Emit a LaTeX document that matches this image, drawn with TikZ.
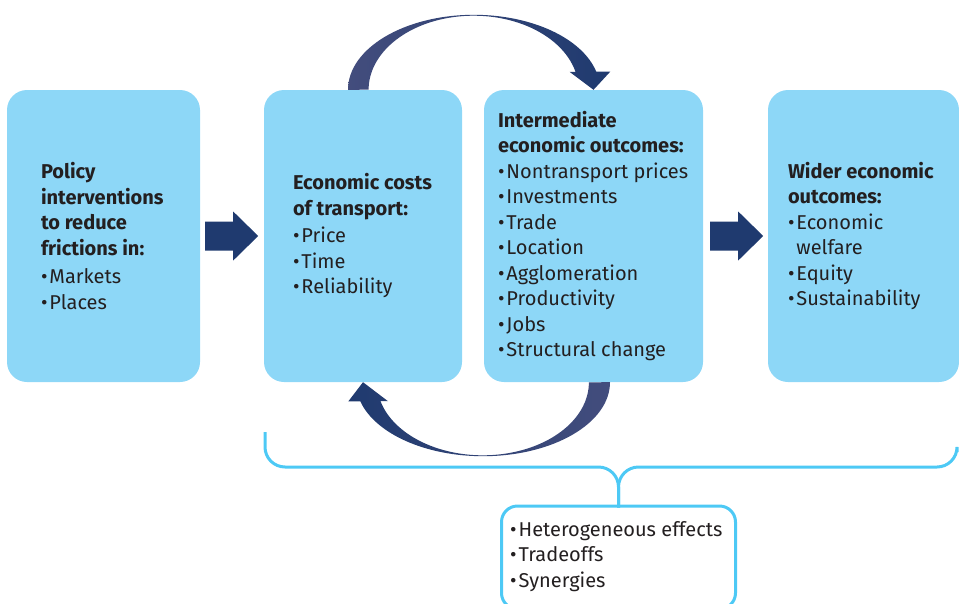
\documentclass[tikz,border=0pt]{standalone}
\usepackage{fontspec}
\setmainfont{Fira Sans}
\usetikzlibrary{positioning,calc}

\definecolor{boxblue}{HTML}{8DD7F7}
\definecolor{navy}{HTML}{1F3A6F}
\definecolor{slate}{HTML}{434D7D}
\definecolor{bracecol}{HTML}{4DC9F5}
\definecolor{ink}{HTML}{231F20}

\newcommand{\hd}[1]{\textbf{#1}}
\newcommand{\itm}{\textbullet\kern2pt}

\begin{document}
\begin{tikzpicture}[x=1pt, y=-1pt,
  stage/.style={fill=boxblue, rounded corners=20pt, minimum height=292pt, inner sep=0pt},
  blurb/.style={anchor=west, align=left, inner sep=0pt, text=ink, font=\fontsize{20}{25.5}\selectfont},
  push/.style={fill=navy},
  brace/.style={draw=bracecol, line width=3pt, rounded corners=20pt}
]
\clip (0,0) rectangle (959,603);

% stages
\node[stage, minimum width=193pt] (policy) at (103.5,236) {};
\node[stage, minimum width=198pt] (costs) at (363,236) {};
\node[stage, minimum width=219pt] (inter) at (593.5,236) {};
\node[stage, minimum width=191pt] (wider) at (863.5,236) {};

% texts
\node[blurb] (policytxt) at ([xshift=34pt]policy.west)
  {\hd{Policy}\\ \hd{interventions}\\ \hd{to reduce}\\ \hd{frictions in:}\\[3pt] \itm Markets\\ \itm Places};
\node[blurb] (coststxt) at ([xshift=29pt]costs.west)
  {\hd{Economic costs}\\ \hd{of transport:}\\[2pt] \itm Price\\ \itm Time\\ \itm Reliability};
\node[blurb] (intertxt) at ([xshift=14pt]inter.west)
  {\hd{Intermediate}\\ \hd{economic outcomes:}\\ \itm Nontransport prices\\ \itm Investments\\ \itm Trade\\
   \itm Location\\ \itm Agglomeration\\ \itm Productivity\\ \itm Jobs\\ \itm Structural change};
\node[blurb] (widertxt) at ([xshift=20pt]wider.west)
  {\hd{Wider economic}\\ \hd{outcomes:}\\ \itm Economic\\ \phantom{\itm}welfare\\ \itm Equity\\ \itm Sustainability};

% block arrows between stages
\fill[push] ([xshift=5pt]policy.east) ++(0,-14.5) -- ++(28,0) -- ++(0,-10) -- ++(25,24.5)
  -- ++(-25,24.5) -- ++(0,-10) -- ++(-28,0) -- cycle;
\fill[push] ([xshift=7pt]inter.east) ++(0,-14.5) -- ++(28,0) -- ++(0,-10) -- ++(25,24.5)
  -- ++(-25,24.5) -- ++(0,-10) -- ++(-28,0) -- cycle;

% feedback loop over the top
\shade[left color=slate, right color=navy]
  ([xshift=-15pt]costs.north) arc[start angle=180, end angle=346, x radius=126, y radius=75]
  -- ++(14,0) -- (inter.north) -- ([xshift=-24pt,yshift=18pt]inter.north) -- ++(6,0)
  arc[start angle=346, end angle=180, x radius=105, y radius=74] -- cycle;

% feedback loop underneath
\shade[left color=navy, right color=slate]
  ([xshift=16.5pt]inter.south) arc[start angle=0, end angle=165, x radius=127, y radius=74]
  -- ++(-12,0) -- (costs.south) -- ([xshift=25pt,yshift=-19pt]costs.south) -- ++(-7.5,0)
  arc[start angle=165, end angle=0, x radius=106, y radius=73] -- cycle;

% brace and the box under it
\node[draw=bracecol, line width=3pt, rounded corners=16pt, minimum width=234pt, minimum height=103pt, inner sep=0pt] (extra) at (618.5,557.5) {};
\node[blurb] (extratxt) at ([xshift=10pt,yshift=1pt]extra.west)
  {\itm Heterogeneous effects\\ \itm Tradeoffs\\ \itm Synergies};

\coordinate (braceL) at (265,432);
\coordinate (braceR) at (957,452);
\coordinate (braceM) at (extra.north |- 467,467);
\draw[brace] (braceL) |- (braceM) -- ([yshift=-3pt]extra.north);
\draw[brace] ([yshift=-3pt]extra.north) -- (braceM) -| (braceR);
\end{tikzpicture}
\end{document}
